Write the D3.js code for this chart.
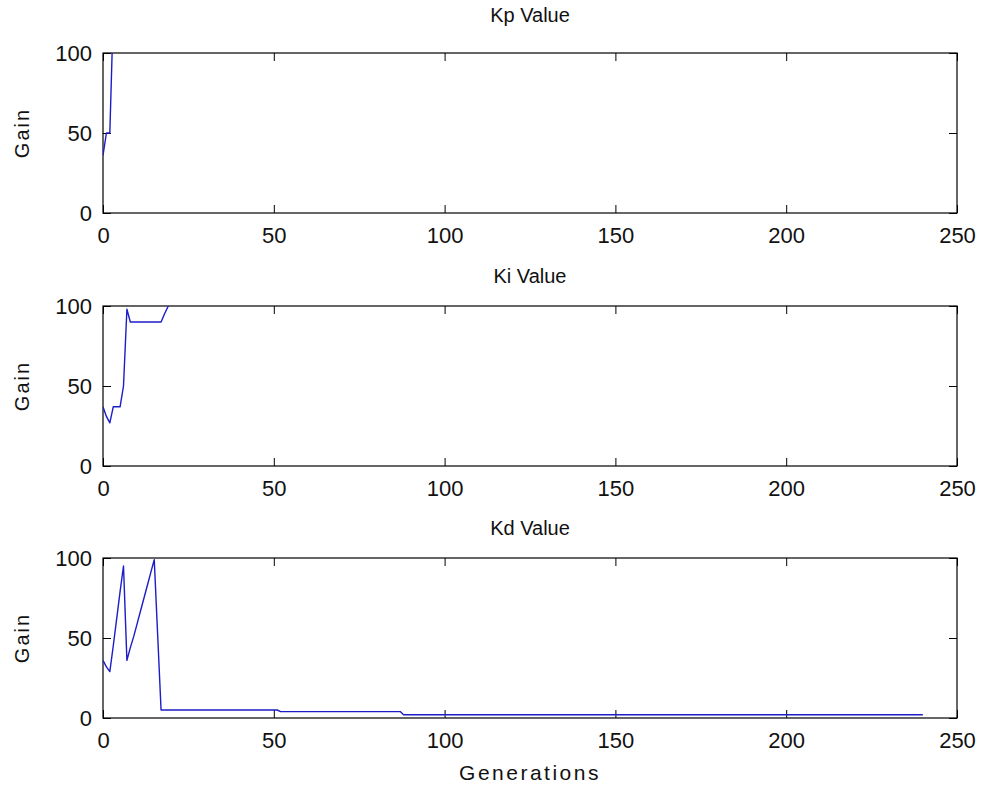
<!DOCTYPE html>
<html>
<head>
<meta charset="utf-8">
<script src="https://cdn.jsdelivr.net/npm/d3@7"></script>
<style>
  body { margin: 0; background: #fff; }
  svg text { font-family: "Liberation Sans", Arial, sans-serif; fill: #111; }
</style>
</head>
<body>
<script>

// gain history per generation (breakpoints where the value changes)
var kpGen = [0, 1, 2, 3];
var kpVal = [36, 50, 50, 125];

var kiGen = [0, 1, 2, 3, 4, 5, 6, 7, 8, 17, 18, 19, 20];
var kiVal = [37, 31, 27, 37, 37, 37, 50, 98, 90, 90, 95, 99.5, 105];

var kdGen = [0, 1, 2, 3, 4, 5, 6, 7, 8, 9, 10, 11, 12, 13, 14, 15, 16, 17, 51, 52, 87, 88, 240];
var kdVal = [36, 32, 29, 45, 62, 79, 95, 36, 44, 51, 59, 67, 75, 83, 91, 99, 52, 5, 5, 4, 4, 2, 2];

var titles = ["Kp Value", "Ki Value", "Kd Value"];
var xTicks = [0, 50, 100, 150, 200, 250];
var yTicks = [0, 50, 100];

// canvas
var width = 992, height = 791;
var margin = {left: 103, right: 35};
var plotW = width - margin.left - margin.right,
    plotH = 160,
    tops = [53, 306, 558];

var svg = d3.select("body").append("svg")
    .attr("width", width)
    .attr("height", height);

var x = d3.scaleLinear().domain([0, 250]).range([0, plotW]);
var y = d3.scaleLinear().domain([0, 100]).range([plotH, 0]);

var line = d3.line()
    .x(function(d) { return x(d[0]); })
    .y(function(d) { return y(d[1]); });

var series = [
    d3.zip(kpGen, kpVal),
    d3.zip(kiGen, kiVal),
    d3.zip(kdGen, kdVal)
];

series.forEach(function(data, i) {
    var g = svg.append("g")
        .attr("transform", "translate(" + margin.left + "," + tops[i] + ")");

    g.append("clipPath")
        .attr("id", "clip" + i)
      .append("rect")
        .attr("width", plotW)
        .attr("height", plotH);

    // ticks point inward on all four sides
    g.append("g")
        .attr("class", "axis")
        .attr("transform", "translate(0," + plotH + ")")
        .call(d3.axisBottom(x).tickValues(xTicks).tickSize(-8).tickPadding(14));
    g.append("g")
        .call(d3.axisTop(x).tickValues(xTicks).tickSize(-8).tickFormat(""));
    g.append("g")
        .attr("class", "axis")
        .call(d3.axisLeft(y).tickValues(yTicks).tickSize(-8).tickPadding(11));
    g.append("g")
        .attr("transform", "translate(" + plotW + ",0)")
        .call(d3.axisRight(y).tickValues(yTicks).tickSize(-8).tickFormat(""));

    g.selectAll(".domain").remove();
    g.selectAll(".tick line").attr("stroke", "#000");
    g.selectAll(".axis text")
        .style("font-size", "22px")
        .attr("fill", "#111");

    g.append("rect")
        .attr("width", plotW)
        .attr("height", plotH)
        .attr("fill", "none")
        .attr("stroke", "#000")
        .attr("stroke-width", 1.2);

    g.append("path")
        .datum(data)
        .attr("clip-path", "url(#clip" + i + ")")
        .attr("fill", "none")
        .attr("stroke", "#1c1cc8")
        .attr("stroke-width", 1.4)
        .attr("stroke-linejoin", "round")
        .attr("d", line);

    g.append("text")
        .attr("x", plotW / 2)
        .attr("y", i == 0 ? -31 : -23)
        .attr("text-anchor", "middle")
        .style("font-size", "20px")
        .text(titles[i]);

    g.append("text")
        .attr("transform", "translate(-74," + (plotH / 2) + ") rotate(-90)")
        .attr("text-anchor", "middle")
        .style("font-size", "20px")
        .style("letter-spacing", "2px")
        .text("Gain");
});

svg.append("text")
    .attr("x", margin.left + plotW / 2)
    .attr("y", 780)
    .attr("text-anchor", "middle")
    .style("font-size", "21px")
    .style("letter-spacing", "2.5px")
    .text("Generations");

</script>
</body>
</html>
